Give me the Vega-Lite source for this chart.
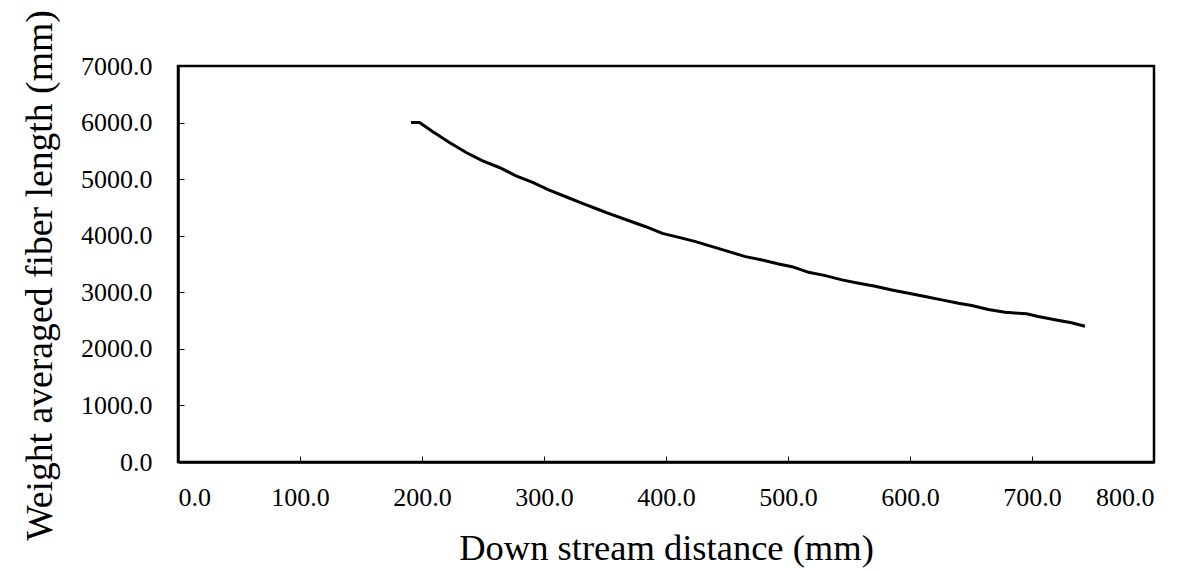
{
  "$schema": "https://vega.github.io/schema/vega-lite/v6.json",
  "autosize": "none",
  "width": 976,
  "height": 396,
  "padding": {"left": 178, "top": 66, "right": 29, "bottom": 109},
  "background": "white",
  "config": {
    "view": {"stroke": "black", "strokeWidth": 2.5},
    "font": "Liberation Serif",
    "axis": {
      "grid": false,
      "domainColor": "black",
      "domainWidth": 2.5,
      "tickColor": "black",
      "tickWidth": 1,
      "tickSize": -6,
      "labelFont": "Liberation Serif",
      "labelFontSize": 26,
      "labelColor": "black",
      "titleFont": "Liberation Serif",
      "titleFontWeight": "normal",
      "titleColor": "black"
    }
  },
  "data": {
    "values": [
      {"x": 191, "y": 6000},
      {"x": 198, "y": 6000},
      {"x": 208.6, "y": 5841},
      {"x": 222.5, "y": 5647},
      {"x": 236.2, "y": 5470},
      {"x": 249.7, "y": 5324},
      {"x": 263.4, "y": 5206},
      {"x": 277.1, "y": 5059},
      {"x": 290.7, "y": 4941},
      {"x": 304.3, "y": 4807},
      {"x": 317.9, "y": 4689},
      {"x": 331.5, "y": 4570},
      {"x": 345.2, "y": 4459},
      {"x": 350.6, "y": 4412},
      {"x": 369.7, "y": 4265},
      {"x": 383.4, "y": 4159},
      {"x": 397.0, "y": 4041},
      {"x": 410.6, "y": 3970},
      {"x": 424.3, "y": 3895},
      {"x": 437.9, "y": 3806},
      {"x": 451.5, "y": 3718},
      {"x": 465.2, "y": 3630},
      {"x": 478.8, "y": 3572},
      {"x": 492.4, "y": 3501},
      {"x": 503.3, "y": 3453},
      {"x": 516.9, "y": 3353},
      {"x": 530.6, "y": 3295},
      {"x": 544.2, "y": 3219},
      {"x": 557.9, "y": 3159},
      {"x": 571.5, "y": 3106},
      {"x": 585.1, "y": 3042},
      {"x": 598.8, "y": 2982},
      {"x": 612.4, "y": 2924},
      {"x": 626.0, "y": 2866},
      {"x": 639.7, "y": 2806},
      {"x": 650.6, "y": 2765},
      {"x": 664.2, "y": 2695},
      {"x": 677.9, "y": 2647},
      {"x": 688.8, "y": 2629},
      {"x": 695.6, "y": 2619},
      {"x": 705.1, "y": 2571},
      {"x": 718.8, "y": 2513},
      {"x": 732.4, "y": 2460},
      {"x": 743.4, "y": 2400}
    ]
  },
  "mark": {"type": "line", "color": "black", "strokeWidth": 3},
  "encoding": {
    "x": {
      "field": "x",
      "type": "quantitative",
      "scale": {"domain": [0, 800], "nice": false, "zero": false},
      "axis": {
        "title": "Down stream distance (mm)",
        "titleFontSize": 36.5,
        "values": [0, 100, 200, 300, 400, 500, 600, 700, 800],
        "format": ".1f",
        "labelPadding": 28,
        "titlePadding": 20
      }
    },
    "y": {
      "field": "y",
      "type": "quantitative",
      "scale": {"domain": [0, 7000], "nice": false},
      "axis": {
        "title": "Weight averaged fiber length (mm)",
        "titleFontSize": 37.7,
        "titleY": 209,
        "values": [0, 1000, 2000, 3000, 4000, 5000, 6000, 7000],
        "format": ".1f",
        "labelPadding": 32,
        "titlePadding": 21
      }
    }
  }
}
